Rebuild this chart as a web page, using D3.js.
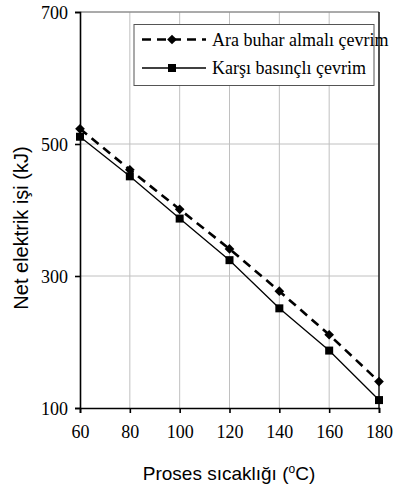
<!DOCTYPE html>
<html>
<head>
<meta charset="utf-8">
<script src="https://cdn.jsdelivr.net/npm/d3@7"></script>
<style>
  body { margin: 0; background: #fff; }
  svg { display: block; }
  .serif { font-family: "Liberation Serif", "Times New Roman", serif; }
  .sans { font-family: "Liberation Sans", Arial, sans-serif; }
</style>
</head>
<body>
<div id="chart"></div>
<script>
// data
const temps = [60, 80, 100, 120, 140, 160, 180];
const araBuhar = [523, 461, 401, 341, 277, 211, 140];
const karsiBasincli = [511, 451, 387, 324, 251, 187, 112];
const yTicks = [100, 300, 500, 700];
const seriesNames = ["Ara buhar almalı çevrim", "Karşı basınçlı çevrim"];

const width = 395, height = 493;
const margin = { top: 12, right: 16, bottom: 85, left: 80 };

const svg = d3.select("#chart").append("svg")
  .attr("width", width)
  .attr("height", height);

const x = d3.scaleLinear().domain([60, 180]).range([margin.left, width - margin.right]);
const y = d3.scaleLinear().domain([100, 700]).range([height - margin.bottom, margin.top]);

// grid
const grid = svg.append("g").attr("stroke", "#c0c0c0").attr("stroke-width", 1);
grid.selectAll(".vx").data(temps.slice(1)).enter().append("line")
  .attr("x1", d => x(d)).attr("x2", d => x(d))
  .attr("y1", y(100)).attr("y2", y(700));
grid.selectAll(".hy").data(yTicks.slice(1)).enter().append("line")
  .attr("x1", x(60)).attr("x2", x(180))
  .attr("y1", d => y(d)).attr("y2", d => y(d));

// plot border: top gray, right black
svg.append("line").attr("x1", x(60)).attr("x2", x(180)).attr("y1", y(700)).attr("y2", y(700))
  .attr("stroke", "#777").attr("stroke-width", 1);
svg.append("line").attr("x1", x(180)).attr("x2", x(180)).attr("y1", y(700)).attr("y2", y(100))
  .attr("stroke", "#000").attr("stroke-width", 1.3);

// axes
const xAxis = svg.append("g")
  .attr("transform", `translate(0,${y(100)})`)
  .call(d3.axisBottom(x).tickValues(temps).tickSize(5).tickPadding(12).tickFormat(d3.format("d")));
const yAxis = svg.append("g")
  .attr("transform", `translate(${x(60)},0)`)
  .call(d3.axisLeft(y).tickValues(yTicks).tickSize(5).tickPadding(7).tickFormat(d3.format("d")));

[xAxis, yAxis].forEach(g => {
  g.attr("font-family", null).attr("font-size", null);
  g.select(".domain").attr("stroke", "#000").attr("stroke-width", 1.6);
  g.selectAll(".tick line").attr("stroke", "#000").attr("stroke-width", 1.6);
  g.selectAll(".tick text")
    .attr("fill", "#000")
    .attr("class", "serif")
    .style("font-size", "18px");
});
yAxis.selectAll(".tick text").attr("dy", "0.35em");

// lines
const line = d3.line().x((d, i) => x(temps[i])).y(d => y(d));

svg.append("path").datum(araBuhar)
  .attr("d", line).attr("fill", "none")
  .attr("stroke", "#000").attr("stroke-width", 2.6).attr("stroke-dasharray", "9,6");
svg.append("path").datum(karsiBasincli)
  .attr("d", line).attr("fill", "none")
  .attr("stroke", "#000").attr("stroke-width", 1.3);

const diamond = d3.symbol().type(d3.symbolDiamond2).size(60);
const square = d3.symbol().type(d3.symbolSquare).size(64);

svg.append("g").selectAll("path").data(araBuhar).enter().append("path")
  .attr("d", diamond)
  .attr("transform", (d, i) => `translate(${x(temps[i])},${y(d)})`)
  .attr("fill", "#000");
svg.append("g").selectAll("path").data(karsiBasincli).enter().append("path")
  .attr("d", square)
  .attr("transform", (d, i) => `translate(${x(temps[i])},${y(d)})`)
  .attr("fill", "#000");

// legend
const legend = svg.append("g");
legend.append("rect")
  .attr("x", 134).attr("y", 24.5).attr("width", 240).attr("height", 61)
  .attr("fill", "#fff").attr("stroke", "#555").attr("stroke-width", 1);

const rows = [
  { name: seriesNames[0], dash: "9,6", sw: 2.6, sym: diamond },
  { name: seriesNames[1], dash: null, sw: 1.3, sym: square }
];
rows.forEach((r, i) => {
  const cy = 39.5 + i * 28.5;
  legend.append("line")
    .attr("x1", 142).attr("x2", 206).attr("y1", cy).attr("y2", cy)
    .attr("stroke", "#000").attr("stroke-width", r.sw)
    .attr("stroke-dasharray", r.dash);
  legend.append("path").attr("d", r.sym)
    .attr("transform", `translate(172,${cy})`).attr("fill", "#000");
  legend.append("text")
    .attr("class", "serif")
    .attr("x", 212).attr("y", cy + 6)
    .style("font-size", "18px")
    .text(r.name);
});

// axis titles
svg.append("text")
  .attr("class", "sans")
  .attr("transform", `translate(28,228) rotate(-90)`)
  .attr("text-anchor", "middle")
  .style("font-size", "20px")
  .text("Net elektrik işi (kJ)");

const xt = svg.append("text")
  .attr("class", "sans")
  .attr("x", 229).attr("y", 480)
  .attr("text-anchor", "middle")
  .style("font-size", "19px");
xt.append("tspan").text("Proses sıcaklığı (");
xt.append("tspan").attr("dy", -7).style("font-size", "12px").text("o");
xt.append("tspan").attr("dy", 7).text("C)");
</script>
</body>
</html>
